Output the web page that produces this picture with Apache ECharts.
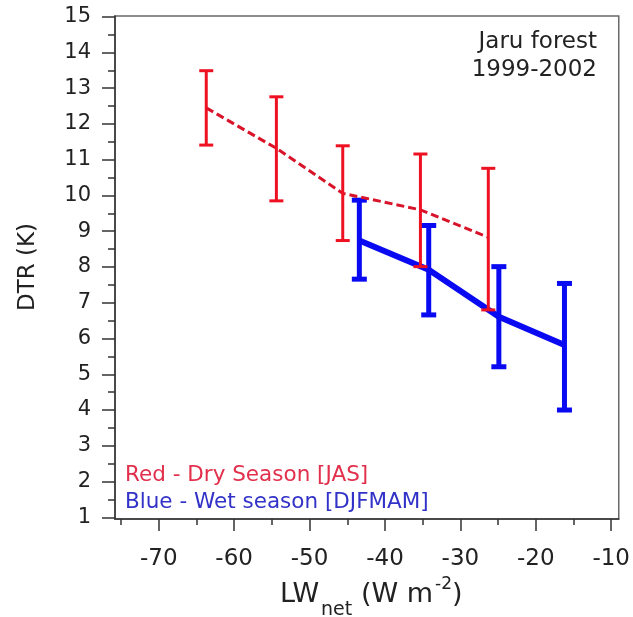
<!DOCTYPE html>
<html>
<head>
<meta charset="utf-8">
<script src="https://cdn.jsdelivr.net/npm/echarts@6/dist/echarts.min.js"></script>
<style>
html,body{margin:0;padding:0;background:#fff;}
#chart{width:633px;height:617px;}
</style>
</head>
<body>
<div id="chart"></div>
<script>
// ---- data ----
const redX    = [-63.7, -54.4, -45.6, -35.3, -26.3];
const redMean = [12.45, 11.32, 10.06, 9.60, 8.83];
const redHigh = [13.49, 12.76, 11.39, 11.16, 10.76];
const redLow  = [11.41, 9.85, 8.74, 8.01, 6.80];

const blueX    = [-43.4, -34.2, -24.9, -16.2];
const blueMean = [8.74, 7.92, 6.61, 5.82];
const blueHigh = [9.87, 9.16, 8.01, 7.54];
const blueLow  = [7.66, 6.66, 5.21, 4.00];

const xMajorTicks = [-70, -60, -50, -40, -30, -20, -10];
const xMinorTicks = [-75, -65, -55, -45, -35, -25, -15];
const yMajorTicks = [1,2,3,4,5,6,7,8,9,10,11,12,13,14,15];
const yMinorTicks = [1.5,2.5,3.5,4.5,5.5,6.5,7.5,8.5,9.5,10.5,11.5,12.5,13.5,14.5];

const titleLines = ['Jaru forest', '1999-2002'];
const legendRed  = 'Red - Dry Season [JAS]';
const legendBlue = 'Blue - Wet season [DJFMAM]';
const yName = 'DTR (K)';

// ---- styling ----
const FONT = 'DejaVu Sans';
const RED = '#ee1122';
const RED_DASH = '#d8142a';
const BLUE = '#0a0af2';
const AXIS = '#333';

function errorBarRenderer(color, lw, capHalf) {
  return function (params, api) {
    const x = api.value(0), lo = api.value(1), hi = api.value(2);
    const pLo = api.coord([x, lo]);
    const pHi = api.coord([x, hi]);
    const st = { stroke: color, lineWidth: lw };
    return {
      type: 'group',
      children: [
        { type: 'line', shape: { x1: pLo[0], y1: pLo[1], x2: pHi[0], y2: pHi[1] }, style: st },
        { type: 'line', shape: { x1: pHi[0] - capHalf, y1: pHi[1], x2: pHi[0] + capHalf, y2: pHi[1] }, style: st },
        { type: 'line', shape: { x1: pLo[0] - capHalf, y1: pLo[1], x2: pLo[0] + capHalf, y2: pLo[1] }, style: st }
      ]
    };
  };
}

const chart = echarts.init(document.getElementById('chart'), null, { renderer: 'canvas' });

const option = {
  backgroundColor: '#fff',
  animation: false,
  grid: {
    left: 115, right: 12, top: 16, bottom: 98,
    show: true, borderColor: '#6a6a6a', borderWidth: 1.5, backgroundColor: 'transparent'
  },
  xAxis: [
    {
      type: 'value', min: -75.8, max: -9, position: 'bottom',
      axisLine: { show: true, lineStyle: { color: AXIS, width: 1.5 } },
      axisTick: { show: true, inside: false, length: 12, customValues: xMajorTicks, lineStyle: { color: AXIS, width: 1.5 } },
      axisLabel: { show: true, customValues: xMajorTicks, margin: 29, color: '#222', fontFamily: FONT, fontSize: 23 },
      splitLine: { show: false }
    },
    {
      type: 'value', min: -75.8, max: -9, position: 'bottom',
      axisLine: { show: false },
      axisTick: { show: true, inside: false, length: 6, customValues: xMinorTicks, lineStyle: { color: AXIS, width: 1.5 } },
      axisLabel: { show: false },
      splitLine: { show: false }
    }
  ],
  yAxis: [
    {
      type: 'value', min: 0.952, max: 15.02, position: 'left',
      axisLine: { show: true, lineStyle: { color: AXIS, width: 1.5 } },
      axisTick: { show: true, inside: false, length: 13, customValues: yMajorTicks, lineStyle: { color: AXIS, width: 1.5 } },
      axisLabel: { show: true, customValues: yMajorTicks, margin: 24, color: '#222', fontFamily: FONT, fontSize: 21 },
      splitLine: { show: false }
    },
    {
      type: 'value', min: 0.952, max: 15.02, position: 'left',
      axisLine: { show: false },
      axisTick: { show: true, inside: false, length: 7, customValues: yMinorTicks, lineStyle: { color: AXIS, width: 1.5 } },
      axisLabel: { show: false },
      splitLine: { show: false }
    }
  ],
  series: [
    {
      name: 'Wet season', type: 'line', xAxisIndex: 0, yAxisIndex: 0,
      data: blueX.map((x, i) => [x, blueMean[i]]),
      symbol: 'none', lineStyle: { color: BLUE, width: 6 }, z: 2
    },
    {
      name: 'Wet season error', type: 'custom', xAxisIndex: 0, yAxisIndex: 0,
      data: blueX.map((x, i) => [x, blueLow[i], blueHigh[i]]),
      renderItem: errorBarRenderer(BLUE, 5, 7.5), z: 3
    },
    {
      name: 'Dry season', type: 'line', xAxisIndex: 0, yAxisIndex: 0,
      data: redX.map((x, i) => [x, redMean[i]]),
      symbol: 'none', lineStyle: { color: RED_DASH, width: 3, type: [8, 4] }, z: 4
    },
    {
      name: 'Dry season error', type: 'custom', xAxisIndex: 0, yAxisIndex: 0,
      data: redX.map((x, i) => [x, redLow[i], redHigh[i]]),
      renderItem: errorBarRenderer(RED, 3, 7), z: 5
    }
  ],
  graphic: [
    { type: 'text', x: 597, y: 42, style: { text: titleLines[0], fill: '#222', font: '23px "DejaVu Sans"', textAlign: 'right', textVerticalAlign: 'middle' } },
    { type: 'text', x: 597, y: 70, style: { text: titleLines[1], fill: '#222', font: '23px "DejaVu Sans"', textAlign: 'right', textVerticalAlign: 'middle' } },
    { type: 'text', x: 125, y: 475, style: { text: legendRed, fill: '#e2304c', font: '21.5px "DejaVu Sans"', textAlign: 'left', textVerticalAlign: 'middle' } },
    { type: 'text', x: 125, y: 502, style: { text: legendBlue, fill: '#3232c8', font: '21.5px "DejaVu Sans"', textAlign: 'left', textVerticalAlign: 'middle' } },
    { type: 'text', x: 28, y: 267, rotation: Math.PI / 2, style: { text: yName, fill: '#222', font: '23px "DejaVu Sans"', textAlign: 'center', textVerticalAlign: 'middle' } },
    { type: 'text', x: 280, y: 595, style: { text: 'LW', fill: '#222', font: '27px "DejaVu Sans"', textAlign: 'left', textVerticalAlign: 'middle' } },
    { type: 'text', x: 321, y: 610, style: { text: 'net', fill: '#222', font: '19px "DejaVu Sans"', textAlign: 'left', textVerticalAlign: 'middle' } },
    { type: 'text', x: 361, y: 595, style: { text: '(W m', fill: '#222', font: '27px "DejaVu Sans"', textAlign: 'left', textVerticalAlign: 'middle' } },
    { type: 'text', x: 435, y: 585, style: { text: '-2', fill: '#222', font: '17px "DejaVu Sans"', textAlign: 'left', textVerticalAlign: 'middle' } },
    { type: 'text', x: 452, y: 595, style: { text: ')', fill: '#222', font: '27px "DejaVu Sans"', textAlign: 'left', textVerticalAlign: 'middle' } }
  ]
};

chart.setOption(option);
</script>
</body>
</html>
